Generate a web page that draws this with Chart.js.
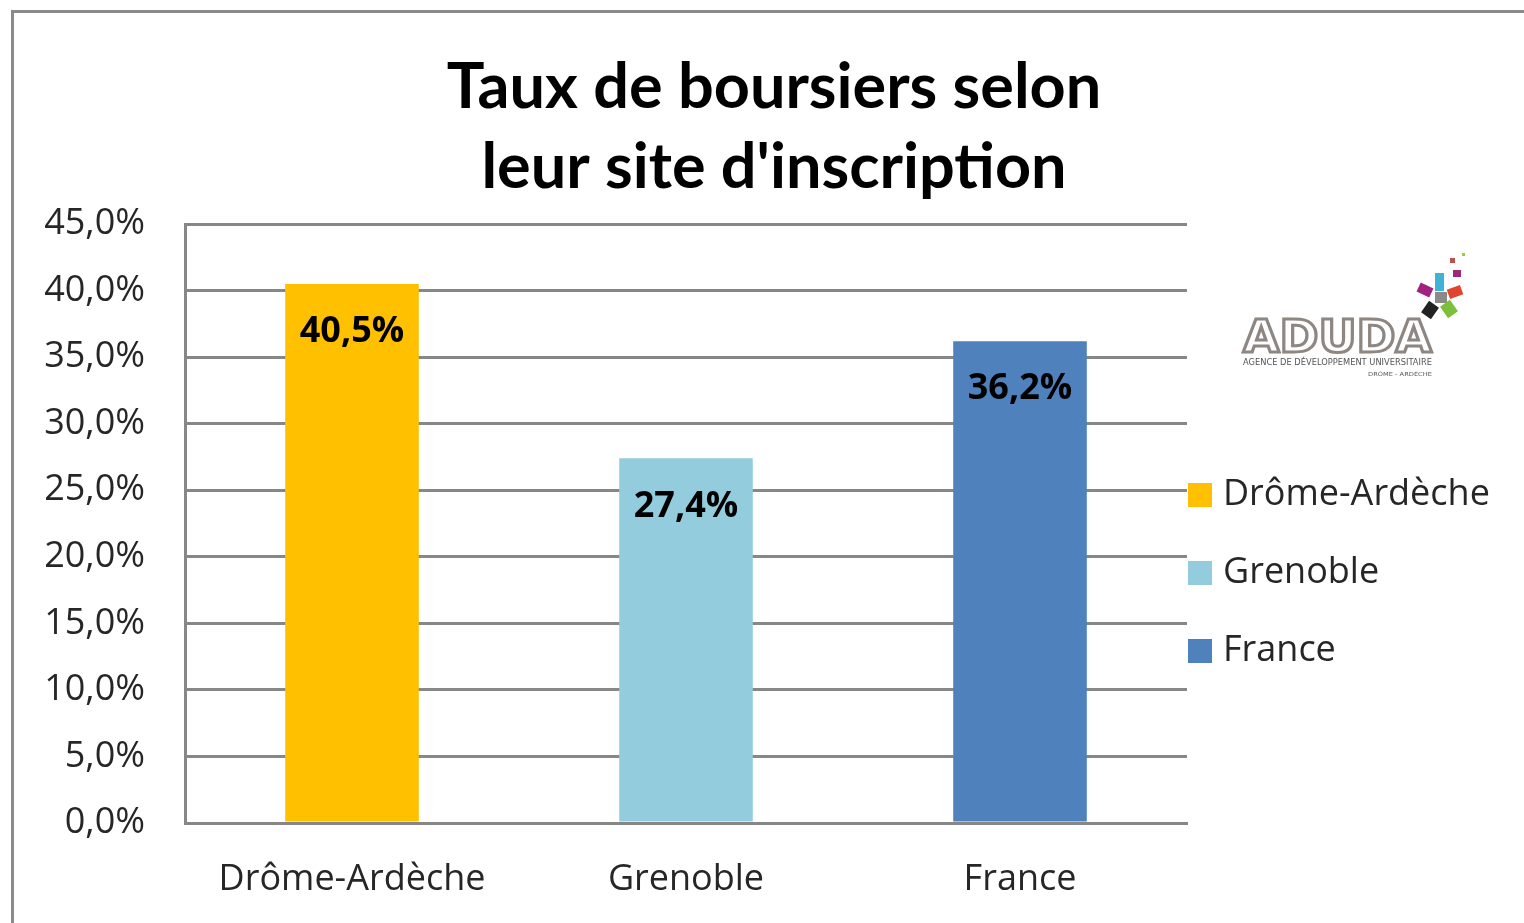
<!DOCTYPE html>
<html lang="fr">
<head>
<meta charset="utf-8">
<title>Taux de boursiers selon leur site d'inscription</title>
<script src="https://cdn.jsdelivr.net/npm/chart.js@4.4.1/dist/chart.umd.min.js"></script>
<style>
  html, body { margin: 0; padding: 0; background: #fff; overflow: hidden; }
  .frame { position: absolute; left: 11px; top: 10px; width: 1600px; height: 1000px;
           border-left: 3px solid #8a8a8a; border-top: 3px solid #8a8a8a; }
  #chart { position: absolute; left: 0; top: 0; }
  .logo { position: absolute; left: 1236px; top: 248px; width: 240px; height: 140px; }
</style>
</head>
<body>
<div class="frame"></div>
<canvas id="chart" width="1524" height="923"></canvas>

<!-- logo ADUDA (approximation) -->
<svg class="logo" viewBox="0 0 240 140" xmlns="http://www.w3.org/2000/svg">
  <rect x="199" y="25" width="9" height="18" fill="#3fb2d6"/>
  <rect x="182" y="37" width="14" height="10" fill="#a0237f" transform="rotate(25 189 42)"/>
  <rect x="212" y="39" width="14" height="10" fill="#e0462f" transform="rotate(-20 219 44)"/>
  <rect x="199" y="44" width="12" height="11" fill="#8a8a8a"/>
  <rect x="188" y="55" width="12" height="14" fill="#222" transform="rotate(35 194 62)"/>
  <rect x="207" y="54" width="12" height="14" fill="#7bbf3a" transform="rotate(-35 213 61)"/>
  <rect x="217" y="22" width="8" height="7" fill="#9b2a7b"/>
  <rect x="214" y="10" width="5" height="5" fill="#c0504d"/>
  <rect x="226" y="5" width="3" height="3" fill="#9acd32"/>
  <text x="7" y="104" font-family="DejaVu Sans" font-weight="bold" font-size="44"
        textLength="189" lengthAdjust="spacingAndGlyphs"
        fill="#fff" stroke="#8e8680" stroke-width="3">ADUDA</text>
  <text x="7" y="117" font-family="DejaVu Sans" font-size="8" fill="#555"
        textLength="189" lengthAdjust="spacingAndGlyphs">AGENCE DE DÉVELOPPEMENT UNIVERSITAIRE</text>
  <text x="132" y="128" font-family="DejaVu Sans" font-size="5.5" fill="#555"
        textLength="64" lengthAdjust="spacingAndGlyphs">DRÔME - ARDÈCHE</text>
</svg>

<script>
// Taux de boursiers — barres + étiquettes + légende à droite
const categories = ['Drôme-Ardèche', 'Grenoble', 'France'];
const tauxBoursiers = [40.5, 27.4, 36.2];
const yMin = 0;
const yMax = 45;
const yStep = 5;

const COLORS = {
  bars: ['#FFC000', '#93CDDD', '#4F81BD'],
  grid: '#878787',
  text: '#262626',
};
const FONT = "'Open Sans', 'DejaVu Sans', sans-serif";
const TITLE_FONT = "Lato, 'Open Sans', sans-serif";

const fmt = (v) => Number(v).toFixed(1).replace('.', ',') + '%';

// étiquettes de valeur dans le haut des barres
const dataLabels = {
  id: 'dataLabels',
  afterDatasetsDraw(chart) {
    const { ctx } = chart;
    const meta = chart.getDatasetMeta(0);
    ctx.save();
    ctx.font = `bold 36px ${FONT}`;
    ctx.fillStyle = '#000';
    ctx.textAlign = 'center';
    ctx.textBaseline = 'middle';
    meta.data.forEach((bar, i) => {
      ctx.fillText(fmt(tauxBoursiers[i]), bar.x, bar.y + 48);
    });
    ctx.restore();
  },
};

// légende à droite de la zone de tracé
const sideLegend = {
  id: 'sideLegend',
  afterDraw(chart) {
    const { ctx, chartArea } = chart;
    const x = chartArea.right + 1;
    let y = chartArea.top + 271;
    ctx.save();
    ctx.font = `36px ${FONT}`;
    ctx.textBaseline = 'middle';
    categories.forEach((label, i) => {
      ctx.fillStyle = COLORS.bars[i];
      ctx.fillRect(x, y - 12, 24, 24);
      ctx.fillStyle = COLORS.text;
      ctx.fillText(label, x + 35, y);
      y += 78;
    });
    ctx.restore();
  },
};

const ctx = document.getElementById('chart').getContext('2d');
new Chart(ctx, {
  type: 'bar',
  data: {
    labels: categories,
    datasets: [{
      label: 'Taux de boursiers',
      data: tauxBoursiers,
      backgroundColor: COLORS.bars,
      borderWidth: 0,
      barPercentage: 0.4,
      categoryPercentage: 1.0,
    }],
  },
  options: {
    responsive: false,
    animation: false,
    layout: { padding: { left: 24, right: 0, top: 0, bottom: 0 } },
    plugins: {
      legend: { display: false },
      tooltip: { enabled: false },
      title: {
        display: true,
        text: ['Taux de boursiers selon', "leur site d'inscription"],
        color: '#000',
        font: { family: TITLE_FONT, size: 63, weight: 'bold', lineHeight: 80 / 63 },
        padding: { top: 48, bottom: 16 },
      },
    },
    scales: {
      x: {
        grid: { display: false },
        border: { display: true, color: COLORS.grid, width: 3 },
        ticks: { color: COLORS.text, font: { family: FONT, size: 36 }, padding: 27 },
        afterFit: (s) => { s.height = 100; },
      },
      y: {
        min: yMin,
        max: yMax,
        ticks: {
          stepSize: yStep,
          color: COLORS.text,
          font: { family: FONT, size: 36 },
          padding: 40,
          callback: (v) => fmt(v),
        },
        grid: { color: COLORS.grid, lineWidth: 3, drawTicks: false },
        border: { display: true, color: COLORS.grid, width: 3 },
        afterFit: (s) => { s.width = 161; },
      },
      // axe vide : réserve la place de la légende et du logo
      yR: {
        position: 'right',
        display: true,
        grid: { display: false },
        ticks: { display: false },
        border: { display: false },
        afterFit: (s) => { s.width = 337; },
      },
    },
  },
  plugins: [dataLabels, sideLegend],
});
</script>
</body>
</html>
